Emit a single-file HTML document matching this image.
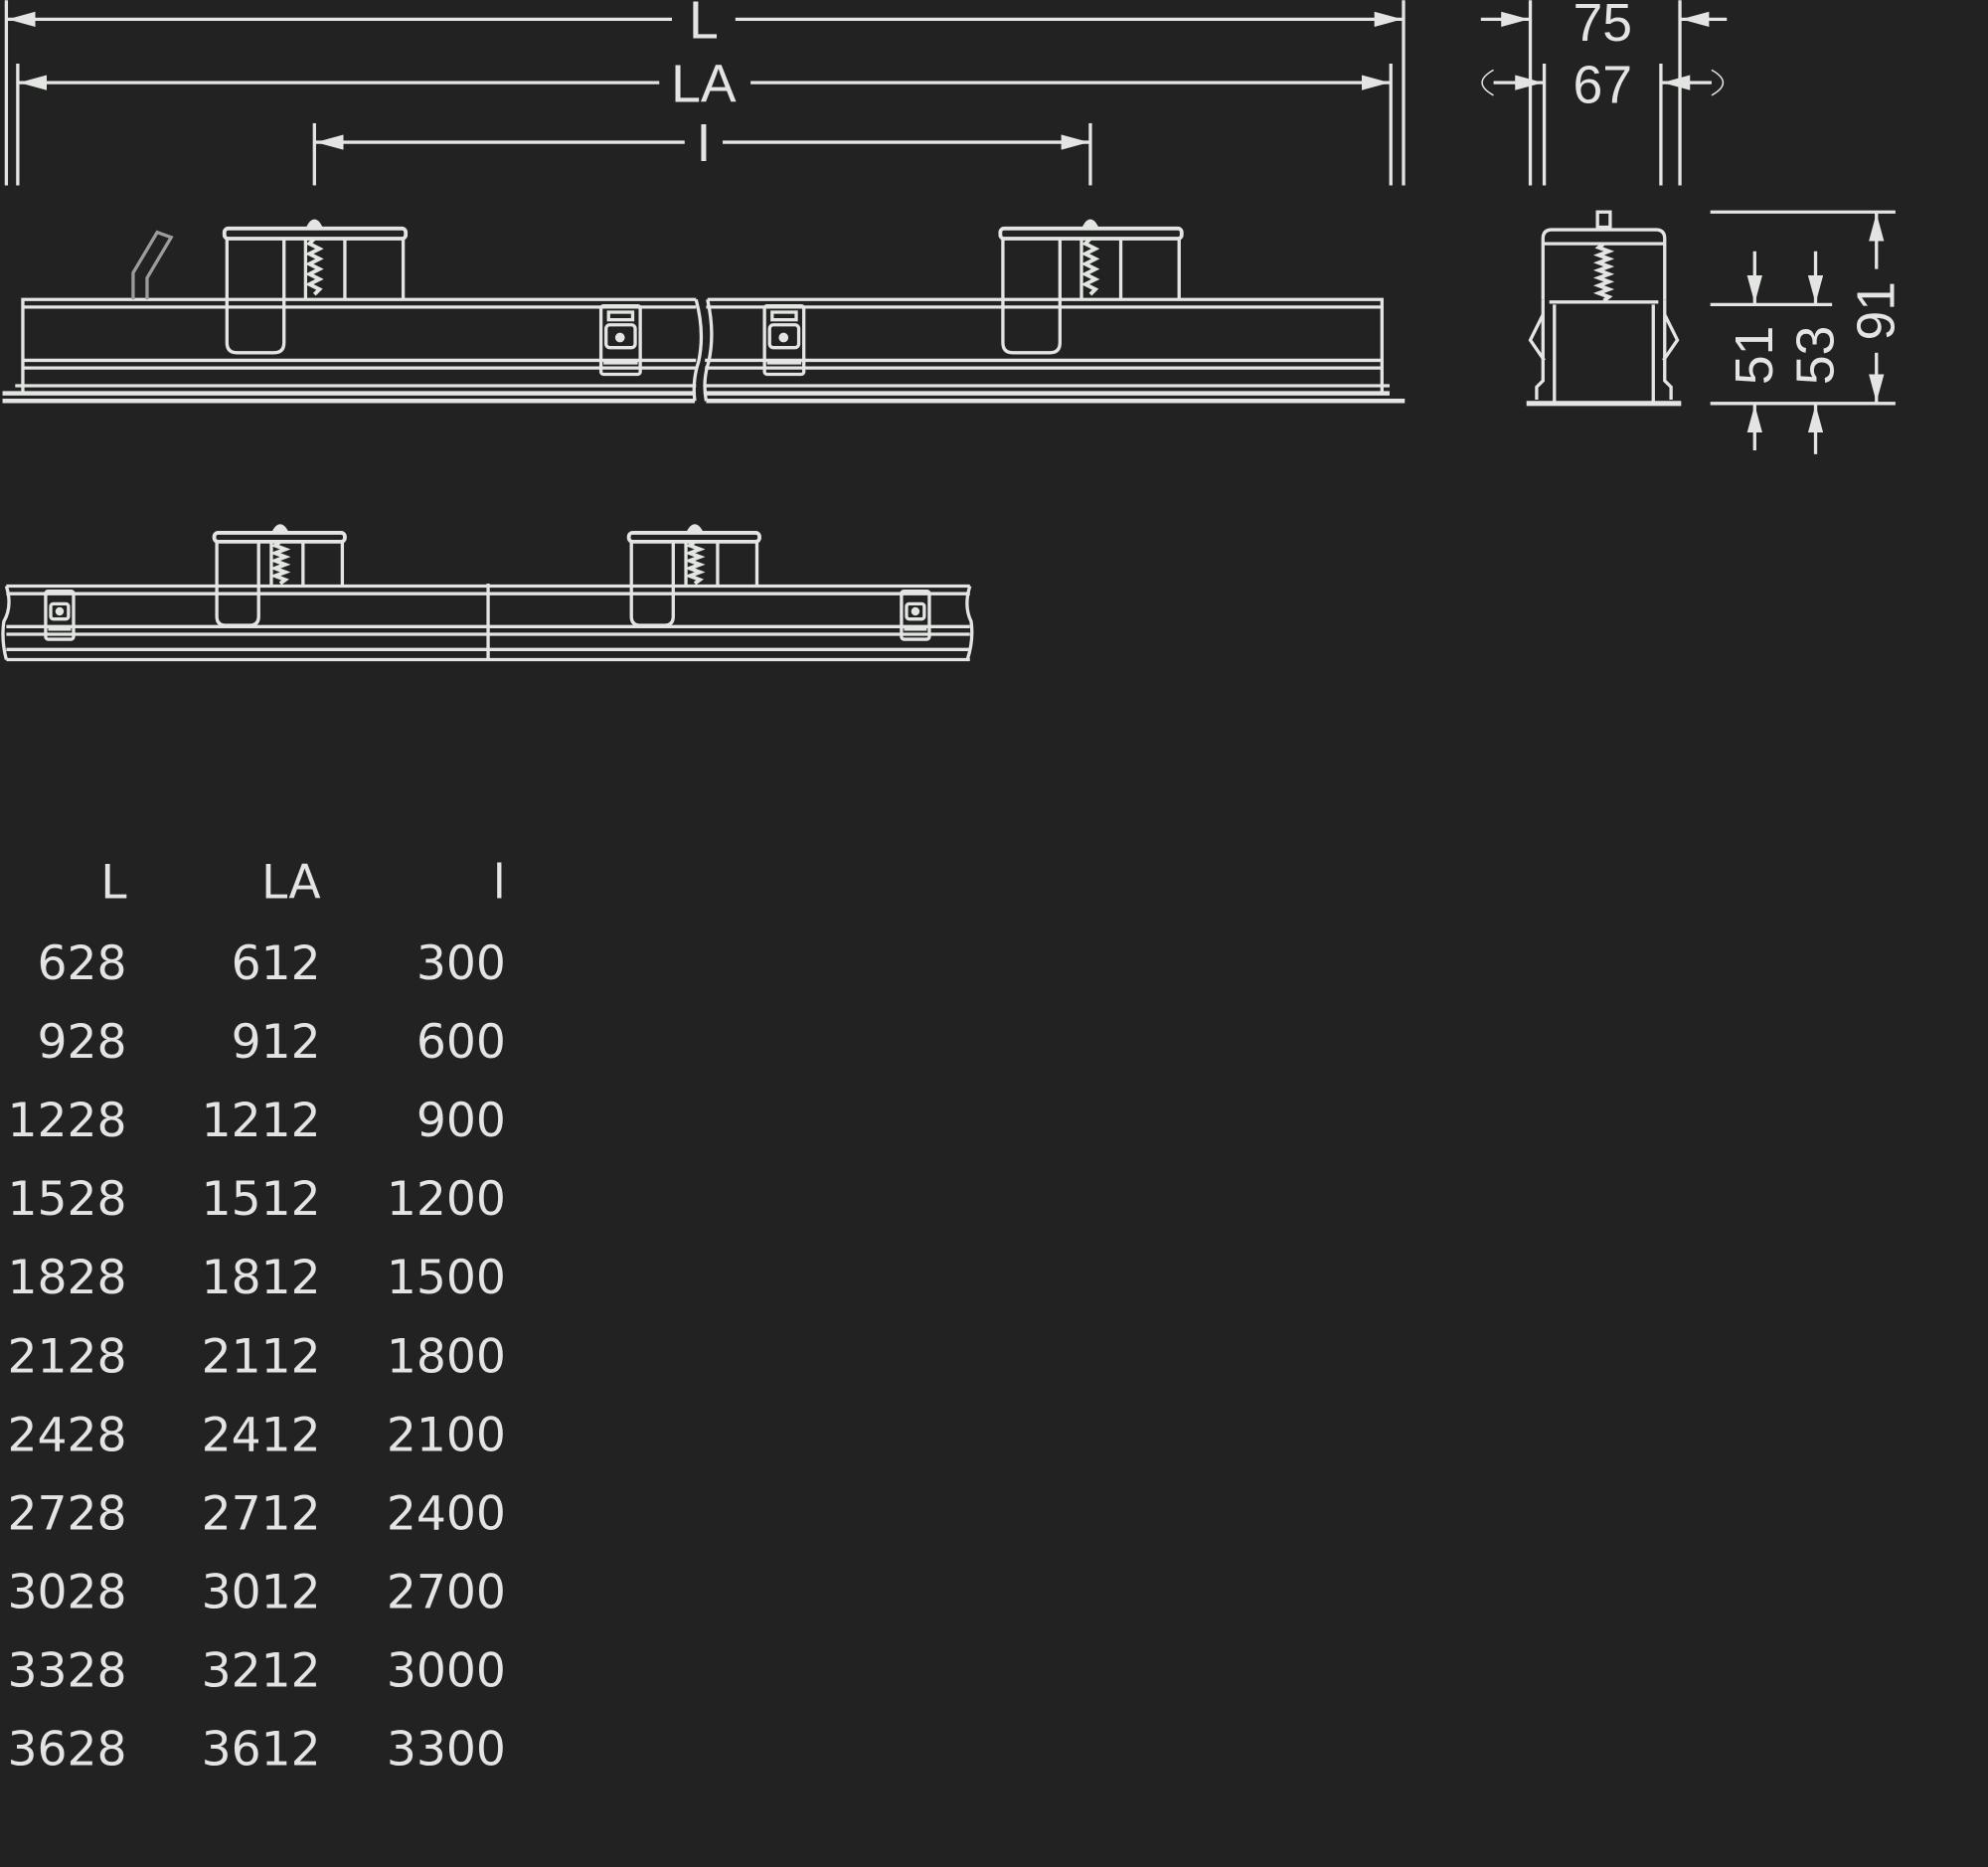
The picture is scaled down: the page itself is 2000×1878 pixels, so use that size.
<!DOCTYPE html>
<html><head><meta charset="utf-8"><style>
html,body{margin:0;padding:0;background:#222222;}
svg{display:block}
</style></head><body>
<svg width="2000" height="1878" viewBox="0 0 1568 1472" xmlns="http://www.w3.org/2000/svg">
<rect width="1568" height="1472" fill="#222222"/>
<defs>
<marker id="a" markerWidth="22" markerHeight="12" refX="22" refY="6" orient="auto" markerUnits="userSpaceOnUse" viewBox="0 0 22 12">
<path d="M0,0 L22,6 L0,12 Z" fill="#e2e5e2"/></marker>
</defs>
<g stroke="#e2e5e2" stroke-width="2.6" fill="none">
<!-- top dimension extension lines -->
<line x1="5" y1="0" x2="5" y2="146"/><line x1="14" y1="50" x2="14" y2="146"/>
<line x1="1097" y1="50" x2="1097" y2="146"/><line x1="1107" y1="0" x2="1107" y2="146"/>
<line x1="248" y1="97" x2="248" y2="146"/><line x1="860" y1="97" x2="860" y2="146"/>
<line x1="530" y1="15" x2="6" y2="15" marker-end="url(#a)"/>
<line x1="580" y1="15" x2="1106" y2="15" marker-end="url(#a)"/>
<line x1="520" y1="65" x2="15" y2="65" marker-end="url(#a)"/>
<line x1="592" y1="65" x2="1096" y2="65" marker-end="url(#a)"/>
<line x1="540" y1="112" x2="249" y2="112" marker-end="url(#a)"/>
<line x1="570" y1="112" x2="859" y2="112" marker-end="url(#a)"/>
<!-- 75 / 67 -->
<line x1="1207" y1="0" x2="1207" y2="146"/><line x1="1325" y1="0" x2="1325" y2="146"/>
<line x1="1218" y1="50" x2="1218" y2="146"/><line x1="1310" y1="50" x2="1310" y2="146"/>
<line x1="1168" y1="15" x2="1206" y2="15" marker-end="url(#a)"/>
<line x1="1362" y1="15" x2="1326" y2="15" marker-end="url(#a)"/>
<line x1="1178" y1="65" x2="1217" y2="65" marker-end="url(#a)"/>
<line x1="1350" y1="65" x2="1311" y2="65" marker-end="url(#a)"/>
<path d="M1178,55 Q1160,65 1178,75" stroke-width="1.2"/><path d="M1350,55 Q1368,65 1350,75" stroke-width="1.2"/>

<!-- SIDE VIEW left segment -->
<path d="M18,310 V236 H549"/>
<line x1="18" y1="242" x2="549" y2="242"/>
<line x1="18" y1="284" x2="549" y2="284"/><line x1="18" y1="290" x2="549" y2="290"/>
<line x1="12" y1="304" x2="549" y2="304"/>
<path d="M2,316 H548 M2,310 H548" stroke-width="3.5"/>
<path d="M549,236 Q556,262 551,285 Q546,300 548,316"/>
<path d="M558,236 H1090 V310"/>
<line x1="557" y1="242" x2="1090" y2="242"/>
<line x1="556" y1="284" x2="1090" y2="284"/><line x1="556" y1="290" x2="1090" y2="290"/>
<line x1="556" y1="304" x2="1096" y2="304"/>
<path d="M557,316 H1108 M557,310 H1096" stroke-width="3.5"/>
<path d="M558,236 Q564,262 559,285 Q554,300 557,316"/>
<path d="M105,236 V215 L124,183 L135,187 L116,219 V236" stroke="#9a9d9a"/>
<g id="br">
<rect x="177" y="180" width="143" height="8" rx="3" stroke-width="3"/>
<path d="M179,188 V270 Q179,278 187,278 H216 Q224,278 224,270 V188"/>
<line x1="272" y1="188" x2="272" y2="236"/><line x1="318" y1="188" x2="318" y2="236"/>
<line x1="241" y1="188" x2="241" y2="236"/>
<path d="M243,179 Q248,169 253,179 Z" fill="#e2e5e2"/>
<path d="M248,188 l-4,4 l8,4 l-8,4 l8,4 l-8,4 l8,4 l-8,4 l8,4 l-8,4 l8,4 l-4,4" stroke-width="3"/>
</g>
<use href="#br" x="612"/>
<g id="cl">
<rect x="474" y="241" width="31" height="54" rx="2"/>
<rect x="480" y="246" width="19" height="6"/>
<rect x="478" y="256" width="23" height="18" rx="3"/>
<circle cx="489" cy="266" r="2.5" fill="#e2e5e2"/>
<line x1="476" y1="286" x2="503" y2="286"/>
</g>
<use href="#cl" x="129"/>

<!-- SECTION VIEW -->
<path d="M1217,236 V188 Q1217,181 1224,181 H1306 Q1313,181 1313,188 V236"/>
<line x1="1217" y1="192" x2="1313" y2="192"/>
<rect x="1260" y="167" width="10" height="12"/>
<path d="M1265,192 l-4,3 l8,3 l-8,3 l8,3 l-8,3 l8,3 l-8,3 l8,3 l-8,3 l8,3 l-8,3 l8,3 l-8,3 l8,3 l-4,3" stroke-width="3"/>
<path d="M1222,238 H1308"/>
<path d="M1226,240 V318 M1304,240 V318"/>
<path d="M1217,236 V300 L1212,305 V315 M1313,236 V300 L1318,305 V315"/>
<path d="M1217,248 L1207,268 L1218,284 M1313,248 L1323,268 L1312,284"/>
<path d="M1204,318 H1326" stroke-width="4"/>
<line x1="1349" y1="167" x2="1495" y2="167"/>
<line x1="1349" y1="240" x2="1445" y2="240"/>
<line x1="1349" y1="318" x2="1495" y2="318"/>
<line x1="1384" y1="198" x2="1384" y2="239" marker-end="url(#a)"/>
<line x1="1432" y1="198" x2="1432" y2="239" marker-end="url(#a)"/>
<line x1="1384" y1="355" x2="1384" y2="319" marker-end="url(#a)"/>
<line x1="1432" y1="358" x2="1432" y2="319" marker-end="url(#a)"/>
<line x1="1480" y1="212" x2="1480" y2="168" marker-end="url(#a)"/>
<line x1="1480" y1="278" x2="1480" y2="317" marker-end="url(#a)"/>

<!-- BOTTOM VIEW -->
<path d="M5,462 H765 M5,468 H765 M5,494 H765 M5,500 H765 M5,512 H765 M5,520 H765"/>
<path d="M5,462 Q10,478 3,490 Q1,505 5,520 M765,462 Q760,478 766,490 Q768,505 763,520"/>
<line x1="385" y1="460" x2="385" y2="520"/>
<g id="bb">
<rect x="169" y="420" width="103" height="7" rx="3" stroke-width="3"/>
<path d="M171,427 V486 Q171,493 178,493 H197 Q204,493 204,486 V427"/>
<line x1="239" y1="427" x2="239" y2="462"/><line x1="270" y1="427" x2="270" y2="462"/>
<line x1="214" y1="427" x2="214" y2="462"/>
<path d="M216,419 Q221,410 226,419 Z" fill="#e2e5e2"/>
<path d="M221,427 l-4,3 l8,3 l-8,3 l8,3 l-8,3 l8,3 l-8,3 l8,3 l-8,3 l8,3 l-4,3" stroke-width="3"/>
</g>
<use href="#bb" x="327"/>
<g id="bc">
<rect x="36" y="466" width="22" height="38" rx="2"/>
<rect x="40" y="476" width="14" height="12" rx="2"/>
<circle cx="47" cy="482" r="2" fill="#e2e5e2"/>
<line x1="38" y1="496" x2="56" y2="496"/>
</g>
<use href="#bc" x="675"/>
</g>
<g fill="#e2e5e2" font-family="Liberation Sans, sans-serif" font-size="42" text-anchor="middle">
<text x="555" y="30">L</text>
<text x="555" y="80">LA</text>
<text x="555" y="127">I</text>
<text x="1264" y="32">75</text>
<text x="1264" y="81">67</text>
<text transform="translate(1398,280) rotate(-90)">51</text>
<text transform="translate(1446,280) rotate(-90)">53</text>
<text transform="translate(1494,245) rotate(-90)">91</text>
</g>
<g fill="#e2e5e2" font-family="DejaVu Sans, sans-serif" font-size="37" text-anchor="end">
<text x="100" y="708">L</text><text x="253" y="708">LA</text><text x="399" y="708">l</text>
<text x="100" y="772">628</text><text x="253" y="772">612</text><text x="399" y="772">300</text>
<text x="100" y="834">928</text><text x="253" y="834">912</text><text x="399" y="834">600</text>
<text x="100" y="896">1228</text><text x="253" y="896">1212</text><text x="399" y="896">900</text>
<text x="100" y="958">1528</text><text x="253" y="958">1512</text><text x="399" y="958">1200</text>
<text x="100" y="1020">1828</text><text x="253" y="1020">1812</text><text x="399" y="1020">1500</text>
<text x="100" y="1082">2128</text><text x="253" y="1082">2112</text><text x="399" y="1082">1800</text>
<text x="100" y="1144">2428</text><text x="253" y="1144">2412</text><text x="399" y="1144">2100</text>
<text x="100" y="1206">2728</text><text x="253" y="1206">2712</text><text x="399" y="1206">2400</text>
<text x="100" y="1268">3028</text><text x="253" y="1268">3012</text><text x="399" y="1268">2700</text>
<text x="100" y="1330">3328</text><text x="253" y="1330">3212</text><text x="399" y="1330">3000</text>
<text x="100" y="1392">3628</text><text x="253" y="1392">3612</text><text x="399" y="1392">3300</text>
</g>
</svg>
</body></html>
